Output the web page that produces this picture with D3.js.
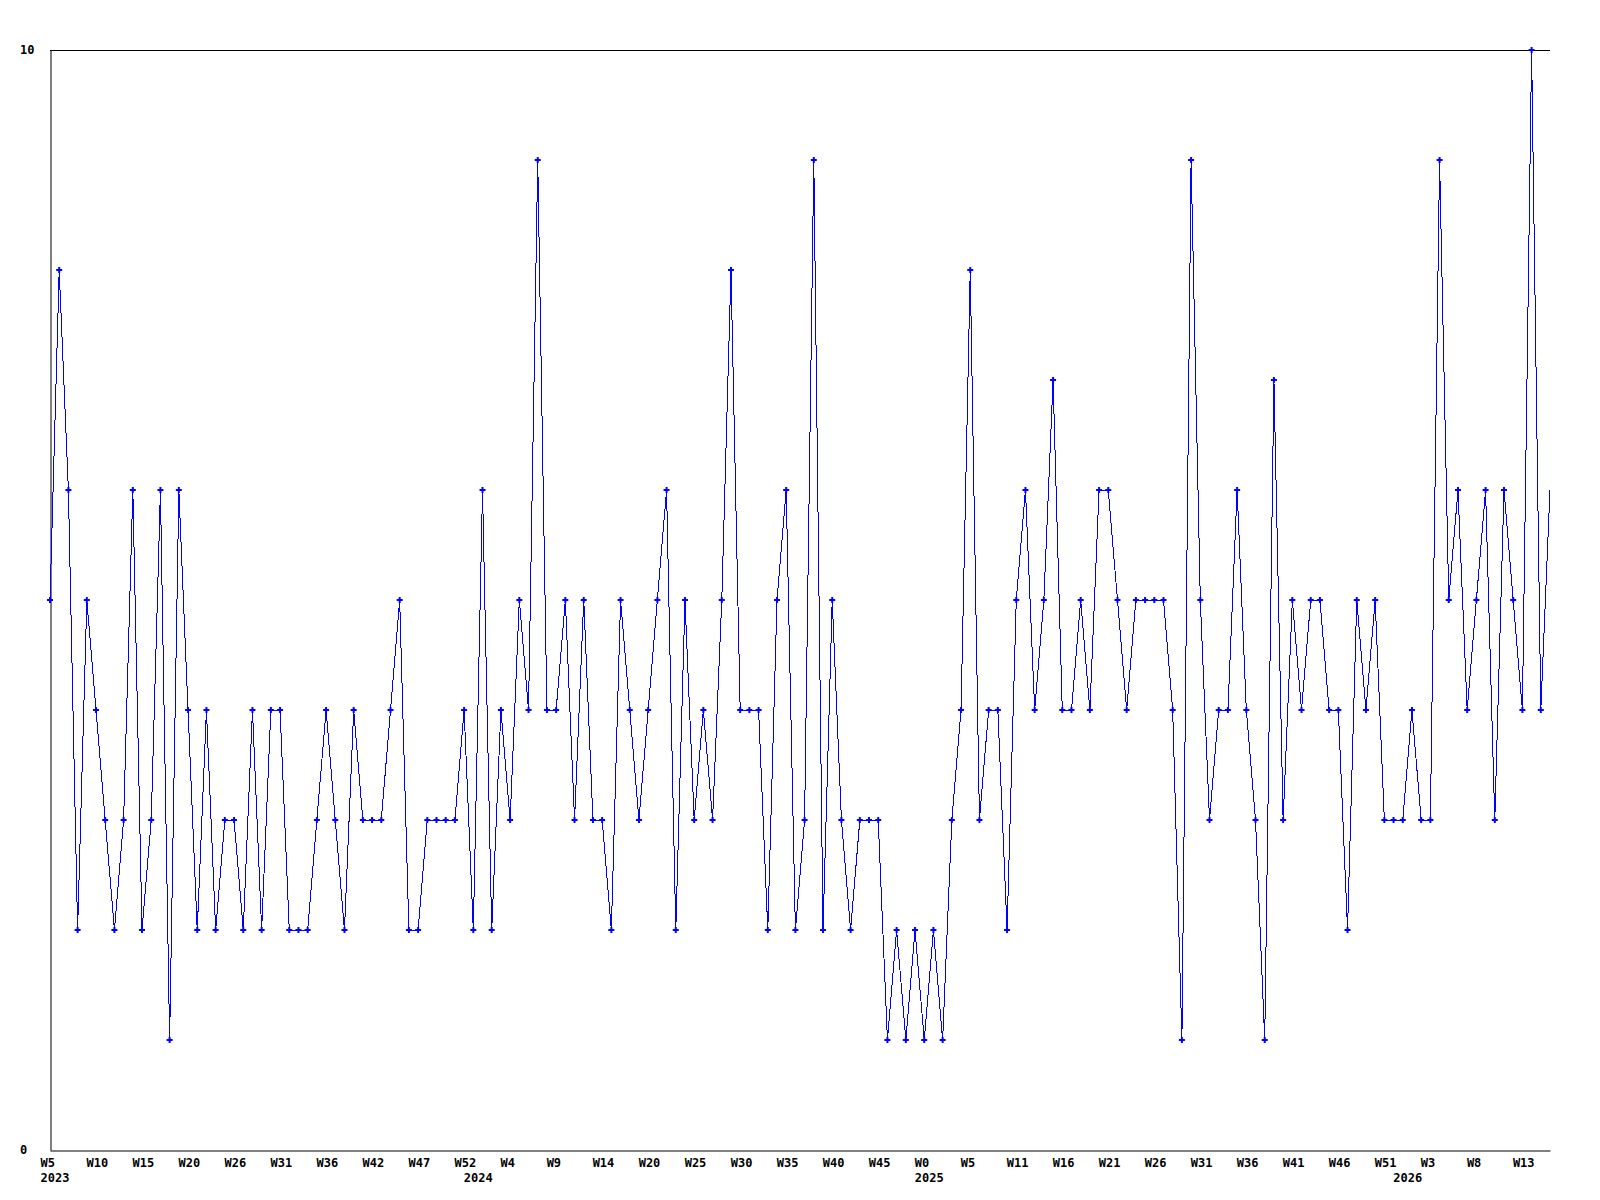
<!DOCTYPE html>
<html>
<head>
<meta charset="utf-8">
<script src="https://cdn.jsdelivr.net/npm/d3@7"></script>
<style>
  body { margin: 0; background: #fff; }
  text { font-family: "DejaVu Sans Mono", monospace; font-weight: bold; font-size: 12px; fill: #000; }
</style>
</head>
<body>
<svg id="chart" width="1600" height="1200"></svg>
<script>
// weekly values, one per point
var values = [
  5, 8, 6, 2, 5, 4, 3, 2, 3, 6,
  2, 3, 6, 1, 6, 4, 2, 4, 2, 3,
  3, 2, 4, 2, 4, 4, 2, 2, 2, 3,
  4, 3, 2, 4, 3, 3, 3, 4, 5, 2,
  2, 3, 3, 3, 3, 4, 2, 6, 2, 4,
  3, 5, 4, 9, 4, 4, 5, 3, 5, 3,
  3, 2, 5, 4, 3, 4, 5, 6, 2, 5,
  3, 4, 3, 5, 8, 4, 4, 4, 2, 5,
  6, 2, 3, 9, 2, 5, 3, 2, 3, 3,
  3, 1, 2, 1, 2, 1, 2, 1, 3, 4,
  8, 3, 4, 4, 2, 5, 6, 4, 5, 7,
  4, 4, 5, 4, 6, 6, 5, 4, 5, 5,
  5, 5, 4, 1, 9, 5, 3, 4, 4, 6,
  4, 3, 1, 7, 3, 5, 4, 5, 5, 4,
  4, 2, 5, 4, 5, 3, 3, 3, 4, 3,
  3, 9, 5, 6, 4, 5, 6, 3, 6, 5,
  4, 10, 4, 6
];

// a week label on every 5th point
var weekLabels = ["W5", "W10", "W15", "W20", "W26", "W31", "W36", "W42", "W47", "W52",
  "W4", "W9", "W14", "W20", "W25", "W30", "W35", "W40", "W45", "W0",
  "W5", "W11", "W16", "W21", "W26", "W31", "W36", "W41", "W46", "W51",
  "W3", "W8", "W13"];

// first point of each year
var yearIndex = [0, 46, 95, 147];
var yearLabels = ["2023", "2024", "2025", "2026"];

var yTicks = [0, 10];

var svg = d3.select("#chart"),
    margin = { top: 50, right: 50, bottom: 50, left: 50 },
    width = +svg.attr("width") - margin.left - margin.right,
    height = +svg.attr("height") - margin.top - margin.bottom;

var x = d3.scaleLinear().domain([0, values.length - 1]).range([margin.left, margin.left + width]),
    y = d3.scaleLinear().domain([0, 10]).range([margin.top + height, margin.top]);

var data = values.map(function (v, i) { return { i: i, v: v }; });

// frame: top line
svg.append("line")
    .attr("x1", x.range()[0]).attr("x2", x.range()[1])
    .attr("y1", y(10) + 0.5).attr("y2", y(10) + 0.5)
    .attr("stroke", "#000");

// x axis with week labels
var xAxis = d3.axisBottom(x)
    .tickValues(d3.range(0, values.length, 5))
    .tickFormat(function (d, i) { return weekLabels[i]; })
    .tickSize(0)
    .tickSizeOuter(0);

var gx = svg.append("g")
    .attr("transform", "translate(0," + (y(0) + 0.5) + ")")
    .call(xAxis);
gx.select(".domain").attr("stroke", "#000");
gx.selectAll("text")
    .attr("text-anchor", "start")
    .attr("x", -10)
    .attr("y", 16)
    .attr("dy", null)
    .attr("font-family", null).attr("font-size", null);

// year row
var yearAxis = d3.axisBottom(x)
    .tickValues(yearIndex)
    .tickFormat(function (d, i) { return yearLabels[i]; })
    .tickSize(0);

var gyear = svg.append("g")
    .attr("transform", "translate(0," + (y(0) + 0.5) + ")")
    .call(yearAxis);
gyear.select(".domain").remove();
gyear.selectAll("text")
    .attr("text-anchor", "start")
    .attr("x", -10)
    .attr("y", 31)
    .attr("dy", null)
    .attr("font-family", null).attr("font-size", null);

// y axis, only 0 and 10
var yAxis = d3.axisLeft(y).tickValues(yTicks).tickSize(0).tickSizeOuter(0);
var gy = svg.append("g")
    .attr("transform", "translate(" + (x(0) + 0.5) + ",0)")
    .call(yAxis);
gy.select(".domain").attr("stroke", "#000");
gy.selectAll("text")
    .attr("text-anchor", "start")
    .attr("x", -30.5)
    .attr("dy", "0.25em")
    .attr("font-family", null).attr("font-size", null);

// the series line
var line = d3.line()
    .x(function (d) { return x(d.i); })
    .y(function (d) { return y(d.v); });

svg.append("path")
    .datum(data)
    .attr("fill", "none")
    .attr("stroke", "#0000ff")
    .attr("stroke-width", 1)
    .attr("shape-rendering", "crispEdges")
    .attr("d", line);

// point markers (last point sits on the edge and has none)
var marker = d3.symbol().type(d3.symbolCross).size(20);
svg.append("g")
    .selectAll("path")
    .data(data.slice(0, data.length - 1))
    .enter().append("path")
    .attr("d", marker)
    .attr("fill", "#0000ff")
    .attr("transform", function (d) { return "translate(" + x(d.i) + "," + y(d.v) + ")"; });
</script>
</body>
</html>
